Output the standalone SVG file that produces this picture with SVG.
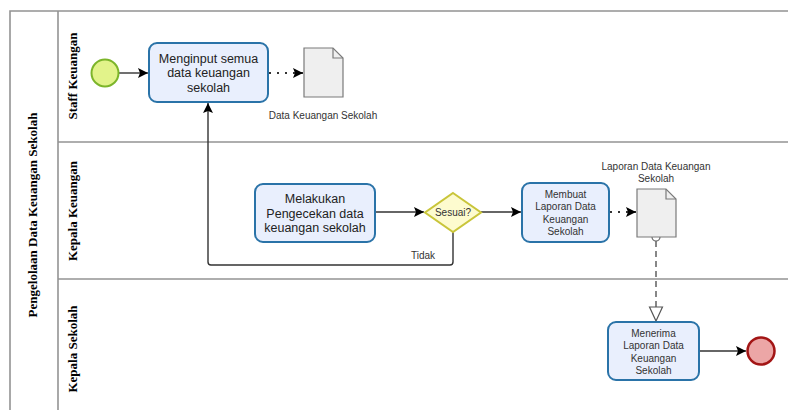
<svg xmlns="http://www.w3.org/2000/svg" width="788" height="410" viewBox="0 0 788 410">
  <style>
    .lane { fill: none; stroke: #939393; stroke-width: 1.6; }
    .lbl { font-family: "Liberation Serif", "Times New Roman", serif; font-weight: bold; font-size: 13px; fill: #000; }
    .task { fill: #e9effd; stroke: #2a73a8; stroke-width: 2; }
    .tt { font-family: "Liberation Sans", Arial, sans-serif; font-size: 12.5px; fill: #222; text-anchor: middle; }
    .ts { font-family: "Liberation Sans", Arial, sans-serif; font-size: 10px; fill: #333; text-anchor: middle; }
    .doc { fill: #efefef; stroke: #7a7a7a; stroke-width: 1.2; }
    .flow { fill: none; stroke: #333; stroke-width: 1.4; }
    .dot { fill: none; stroke: #333; stroke-width: 2; stroke-dasharray: 2 6; }
    .assoc { fill: none; stroke: #555; stroke-width: 1.4; stroke-dasharray: 6 4; }
  </style>
  <defs>
    <marker id="arrow" viewBox="0 0 10 10" refX="10" refY="5" markerWidth="10" markerHeight="10" markerUnits="userSpaceOnUse" orient="auto">
      <path d="M0,0 L10,5 L0,10 L2,5 Z" fill="#000"/>
    </marker>
    <marker id="open" viewBox="0 0 16 16" refX="15" refY="8" markerWidth="16" markerHeight="16" markerUnits="userSpaceOnUse" orient="auto">
      <path d="M1,1.5 L15,8 L1,14.5 Z" fill="#fff" stroke="#555" stroke-width="1.2"/>
    </marker>
  </defs>

  <rect width="788" height="410" fill="#fff"/>

  <!-- pool and lanes -->
  <g id="pool">
    <path class="lane" d="M800,11 H10 V420"/>
    <path class="lane" d="M58,11 V420"/>
    <path class="lane" d="M58,142 H800"/>
    <path class="lane" d="M58,279 H800"/>
    <text class="lbl" transform="translate(37,215) rotate(-90)" text-anchor="middle">Pengelolaan Data Keuangan Sekolah</text>
    <text class="lbl" transform="translate(77,76) rotate(-90)" text-anchor="middle">Staff Keuangan</text>
    <text class="lbl" transform="translate(77,211) rotate(-90)" text-anchor="middle">Kepala Keuangan</text>
    <text class="lbl" transform="translate(77,349) rotate(-90)" text-anchor="middle">Kepala Sekolah</text>
  </g>

  <!-- connectors -->
  <g id="connectors">
    <path class="flow" d="M119,73 H148" marker-end="url(#arrow)"/>
    <path class="dot" d="M269,73 H303" marker-end="url(#arrow)"/>
    <path class="flow" d="M375,212 H424" marker-end="url(#arrow)"/>
    <path class="flow" d="M481,212 H521" marker-end="url(#arrow)"/>
    <path class="dot" d="M610,212 H636" marker-end="url(#arrow)"/>
    <path class="flow" d="M453,232 V262 Q453,265 450,265 H211 Q208,265 208,262 V103" marker-end="url(#arrow)"/>
    <text class="ts" x="423" y="259">Tidak</text>
    <path class="assoc" d="M656,241 V321" marker-end="url(#open)"/>
    <circle cx="656" cy="237" r="4" fill="#fff" stroke="#666" stroke-width="1.2"/>
    <path class="flow" d="M699,351 H746" marker-end="url(#arrow)"/>
  </g>

  <g id="start">
    <circle cx="105" cy="73" r="13.5" fill="#e2f38a" stroke="#7cb52a" stroke-width="2"/>
  </g>

  <g id="task-input">
    <rect class="task" x="149" y="43" width="119" height="59" rx="8"/>
    <text class="tt" x="208.5" y="62.5">Menginput semua</text>
    <text class="tt" x="208.5" y="77">data keuangan</text>
    <text class="tt" x="208.5" y="91.5">sekolah</text>
  </g>

  <g id="doc-data">
    <path class="doc" d="M304,48 H333 L343,58 V97 H304 Z"/>
    <path d="M333,48 V58 H343" fill="none" stroke="#7a7a7a" stroke-width="1.2"/>
    <text class="ts" x="323" y="119">Data Keuangan Sekolah</text>
  </g>

  <g id="task-check">
    <rect class="task" x="255" y="184" width="120" height="58" rx="8"/>
    <text class="tt" x="315" y="203">Melakukan</text>
    <text class="tt" x="315" y="217.5">Pengecekan data</text>
    <text class="tt" x="315" y="232">keuangan sekolah</text>
  </g>

  <g id="gateway">
    <path d="M453,193 L481,212.5 L453,232 L425,212.5 Z" fill="#fdfbcf" stroke="#c9c53a" stroke-width="2"/>
    <text class="ts" x="453" y="216">Sesuai?</text>
  </g>

  <g id="task-report">
    <rect class="task" x="522" y="183" width="87" height="59" rx="8"/>
    <text class="ts" x="565.5" y="197.5">Membuat</text>
    <text class="ts" x="565.5" y="210">Laporan Data</text>
    <text class="ts" x="565.5" y="222.5">Keuangan</text>
    <text class="ts" x="565.5" y="235">Sekolah</text>
  </g>

  <g id="doc-report">
    <path class="doc" d="M637,189 H666 L676,199 V237 H637 Z"/>
    <path d="M666,189 V199 H676" fill="none" stroke="#7a7a7a" stroke-width="1.2"/>
    <text class="ts" x="656" y="170">Laporan Data Keuangan</text>
    <text class="ts" x="656" y="182">Sekolah</text>
  </g>

  <g id="task-receive">
    <rect class="task" x="608" y="322" width="91" height="58" rx="8"/>
    <text class="ts" x="653.5" y="336.5">Menerima</text>
    <text class="ts" x="653.5" y="349">Laporan Data</text>
    <text class="ts" x="653.5" y="361.5">Keuangan</text>
    <text class="ts" x="653.5" y="374">Sekolah</text>
  </g>

  <g id="end">
    <circle cx="761" cy="351" r="13.5" fill="#eca6a6" stroke="#a31515" stroke-width="2.5"/>
  </g>
</svg>
